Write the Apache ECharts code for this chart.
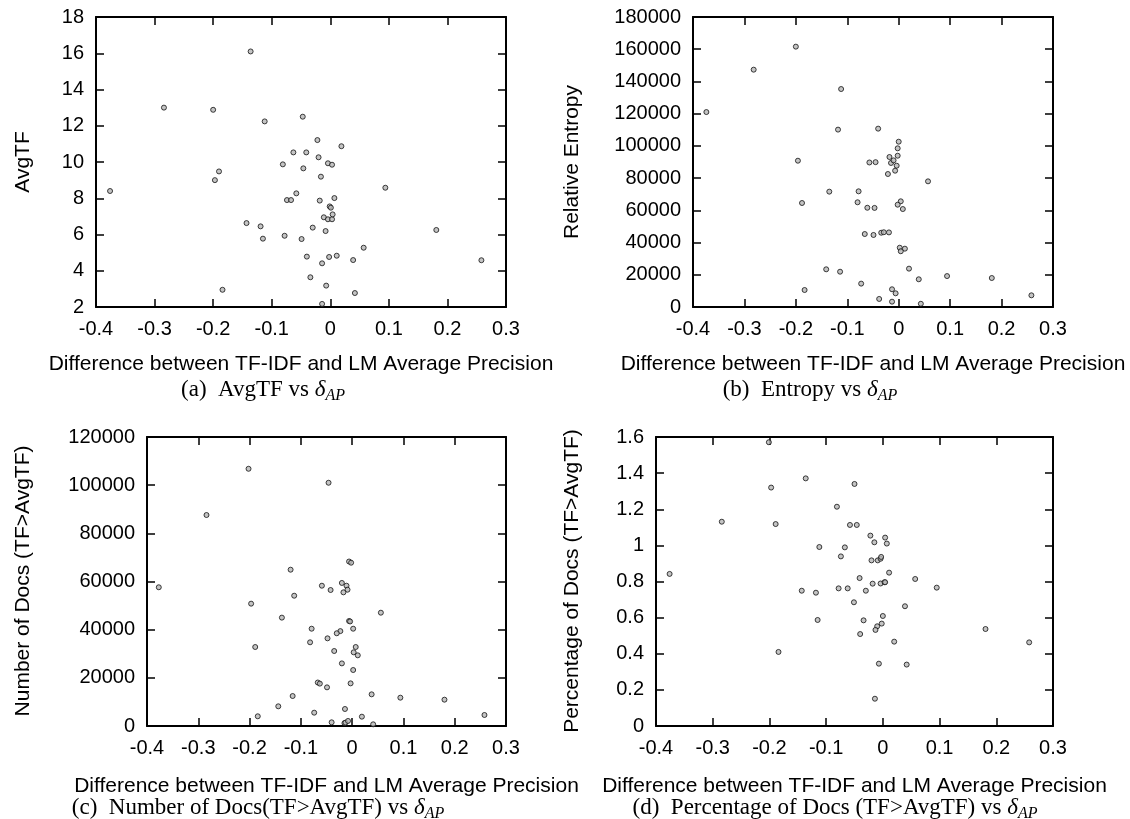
<!DOCTYPE html>
<html><head><meta charset="utf-8">
<script src="https://cdn.jsdelivr.net/npm/echarts@6/dist/echarts.min.js"></script>
<style>html,body{margin:0;padding:0;background:#fff}#c{width:1130px;height:819px}</style>
</head><body><div id="c"></div>
<script>
// ---- data (x = difference in AP, y = measure) ----
const xTicks = [-0.4, -0.3, -0.2, -0.1, 0, 0.1, 0.2, 0.3];
const aX = [-0.136,-0.284,-0.200,-0.112,-0.063,-0.081,-0.190,-0.197,-0.376,-0.058,-0.074,-0.067,-0.143,-0.119,-0.115,-0.078,-0.184,-0.047,-0.022,0.019,-0.041,-0.020,-0.004,0.003,-0.046,-0.016,0.094,-0.018,0.007,-0.001,0.001,-0.011,-0.004,0.003,0.004,-0.030,-0.008,-0.049,0.057,-0.040,-0.002,0.011,0.039,0.258,0.181,-0.014,-0.034,0.042,-0.007,-0.014];
const aY = [16.1,13.0,12.88,12.24,10.53,9.87,9.48,9.0,8.4,8.27,7.9,7.9,6.63,6.45,5.77,5.93,2.95,12.5,11.21,10.87,10.53,10.26,9.93,9.85,9.65,9.19,8.58,7.87,8.01,7.55,7.48,6.95,6.84,6.84,7.11,6.38,6.19,5.75,5.27,4.78,4.76,4.83,4.59,4.58,6.25,4.41,3.64,2.77,3.18,2.17];
const bX = [-0.200,-0.282,-0.112,-0.374,-0.118,-0.196,-0.135,-0.188,-0.141,-0.114,-0.183,-0.040,0.000,-0.002,-0.018,-0.002,-0.015,-0.010,-0.004,-0.007,-0.021,-0.057,-0.045,0.057,-0.078,-0.080,-0.061,-0.047,0.004,-0.002,0.008,-0.066,-0.049,-0.034,-0.029,-0.019,0.002,0.012,0.004,0.020,0.039,0.094,0.181,-0.073,-0.013,-0.006,-0.038,-0.013,0.043,0.258];
const bY = [161600,147300,135300,121000,110100,90800,71600,64550,23400,21900,10550,110700,102600,98500,93100,93900,89400,91000,87700,84600,82550,89700,89900,78000,71800,65000,61600,61500,65600,63500,60800,45300,44700,46100,46400,46300,36800,36200,34600,23800,17200,19200,18000,14500,11000,8500,5000,3300,2000,7250];
const cX = [-0.202,-0.284,-0.377,-0.120,-0.113,-0.197,-0.137,-0.189,-0.116,-0.144,-0.184,-0.046,-0.006,-0.002,-0.059,-0.042,-0.020,-0.011,-0.009,-0.017,0.056,-0.006,-0.004,-0.079,0.002,-0.023,-0.030,-0.082,-0.048,0.007,0.003,0.011,-0.035,-0.020,0.002,-0.067,-0.063,-0.049,-0.003,0.038,0.094,0.180,0.258,-0.074,-0.014,0.019,-0.040,-0.015,-0.013,-0.008,0.041];
const cY = [106800,87600,57600,64900,54100,50800,45000,32800,12450,8170,4030,101000,68300,67800,58250,56470,59400,58250,56600,55500,47050,43600,43400,40400,40400,39400,38500,34750,36400,32800,30600,29350,31140,26000,23250,18060,17600,16050,17700,13150,11760,10930,4570,5530,7060,3870,1530,1200,1400,2100,700];
const dX = [-0.201,-0.136,-0.197,-0.284,-0.189,-0.081,-0.050,-0.058,-0.112,-0.067,-0.074,-0.376,-0.143,-0.118,-0.078,-0.062,-0.051,-0.115,-0.184,-0.046,-0.022,0.004,-0.015,0.007,-0.020,-0.009,-0.004,-0.003,0.011,-0.041,0.057,-0.018,-0.004,0.003,0.004,0.095,-0.030,0.039,0.000,-0.034,-0.002,-0.010,-0.013,-0.040,0.020,0.181,0.258,-0.007,0.042,-0.014];
const dY = [1.571,1.371,1.320,1.131,1.118,1.214,1.340,1.113,0.991,0.989,0.939,0.842,0.749,0.738,0.762,0.762,0.685,0.587,0.410,1.113,1.054,1.043,1.017,1.010,0.917,0.917,0.926,0.936,0.849,0.819,0.814,0.788,0.789,0.796,0.796,0.766,0.749,0.663,0.609,0.585,0.567,0.552,0.532,0.509,0.467,0.537,0.463,0.345,0.340,0.151];
const yNames = ['AvgTF', 'Relative Entropy', 'Number of Docs (TF>AvgTF)', 'Percentage of Docs (TF>AvgTF)'];
const xName = 'Difference between TF-IDF and LM Average Precision';
const captions = ['(a)  AvgTF vs ', '(b)  Entropy vs ', '(c)  Number of Docs(TF>AvgTF) vs ', '(d)  Percentage of Docs (TF>AvgTF) vs '];
const yRanges = [[2, 18, 2], [0, 180000, 20000], [0, 120000, 20000], [0, 1.6, 0.2]];

// ---- layout ----
const SANS = 'Liberation Sans, Arial, Helvetica, sans-serif';
const SERIF = 'Liberation Serif, Times New Roman, serif';
const FS = 20, FT = 21;
const grids = [
  {left: 96, top: 17, width: 410, height: 290},
  {left: 693, top: 17, width: 360, height: 290},
  {left: 147, top: 437, width: 359, height: 289},
  {left: 656, top: 437, width: 397, height: 289}
];
const yNamePos = [[23, 162], [572, 162], [23, 581], [572, 581]];
const xNameY = [364, 364, 786, 786];
const capPos = [[263, 390], [810, 390], [258, 808], [835, 808]];

const fmt = v => String(+(+v).toFixed(1));
const line = {color: '#000', width: 2};
const tick = {color: '#000', width: 1.5};
const xAxes = [], yAxes = [], series = [], graphic = [];
const data = [[aX, aY], [bX, bY], [cX, cY], [dX, dY]];

grids.forEach((g, i) => {
  const [ymin, ymax, yint] = yRanges[i];
  ['bottom', 'top'].forEach(pos => xAxes.push({
    gridIndex: i, type: 'value', position: pos, min: xTicks[0], max: xTicks[xTicks.length - 1], interval: 0.1,
    axisLine: {show: true, onZero: false, lineStyle: line},
    axisTick: {show: true, inside: true, length: 8, lineStyle: tick},
    axisLabel: {show: pos === 'bottom', margin: 12, color: '#000', fontFamily: SANS, fontSize: FS, formatter: fmt},
    splitLine: {show: false}
  }));
  ['left', 'right'].forEach(pos => yAxes.push({
    gridIndex: i, type: 'value', position: pos, min: ymin, max: ymax, interval: yint,
    axisLine: {show: true, onZero: false, lineStyle: line},
    axisTick: {show: true, inside: true, length: 8, lineStyle: tick},
    axisLabel: {show: pos === 'left', margin: 12, color: '#000', fontFamily: SANS, fontSize: FS, formatter: fmt},
    splitLine: {show: false}
  }));
  const [xs, ys] = data[i];
  series.push({
    type: 'scatter', xAxisIndex: 2 * i, yAxisIndex: 2 * i,
    data: xs.map((x, k) => [x, ys[k]]),
    symbol: 'circle', symbolSize: 5,
    itemStyle: {color: '#b5b5b5', borderColor: '#111', borderWidth: 1},
    silent: true, animation: false
  });
  graphic.push({type: 'text', x: yNamePos[i][0], y: yNamePos[i][1], rotation: Math.PI / 2,
    style: {text: yNames[i], fill: '#000', font: FT + 'px ' + SANS, align: 'center', verticalAlign: 'middle'}});
  graphic.push({type: 'text', x: g.left + g.width / 2, y: xNameY[i],
    style: {text: xName, fill: '#000', font: FT + 'px ' + SANS, align: 'center', verticalAlign: 'middle'}});
});

// captions with delta_{AP}
const cv = document.createElement('canvas').getContext('2d');
function tw(t, f) { cv.font = f; return cv.measureText(t).width; }
const fMain = '23px ' + SERIF, fDel = 'italic 23px ' + SERIF, fSub = 'italic 16px ' + SERIF;
captions.forEach((t, i) => {
  const w1 = tw(t, fMain), w2 = tw('δ', fDel), w3 = tw('AP', fSub);
  const x0 = capPos[i][0] - (w1 + w2 + w3) / 2, y0 = capPos[i][1];
  graphic.push({type: 'text', x: x0, y: y0, style: {text: t, fill: '#000', font: fMain, align: 'left', verticalAlign: 'middle'}});
  graphic.push({type: 'text', x: x0 + w1, y: y0, style: {text: 'δ', fill: '#000', font: fDel, align: 'left', verticalAlign: 'middle'}});
  graphic.push({type: 'text', x: x0 + w1 + w2, y: y0 + 6, style: {text: 'AP', fill: '#000', font: fSub, align: 'left', verticalAlign: 'middle'}});
});

const chart = echarts.init(document.getElementById('c'));
chart.setOption({
  animation: false,
  backgroundColor: '#fff',
  grid: grids.map(g => Object.assign({containLabel: false}, g)),
  xAxis: xAxes, yAxis: yAxes, series, graphic
});
</script></body></html>
